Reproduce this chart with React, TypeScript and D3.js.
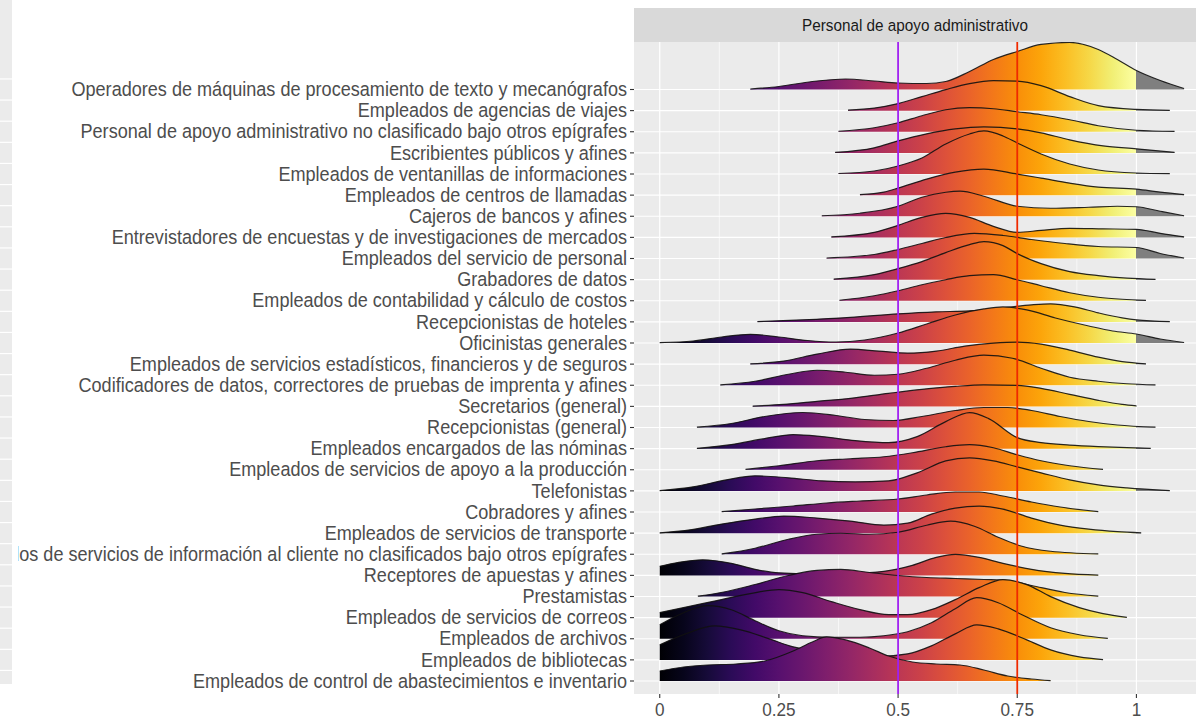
import React from 'react';
import * as d3 from 'd3';

const categories: string[] = [
  'Operadores de máquinas de procesamiento de texto y mecanógrafos',
  'Empleados de agencias de viajes',
  'Personal de apoyo administrativo no clasificado bajo otros epígrafes',
  'Escribientes públicos y afines',
  'Empleados de ventanillas de informaciones',
  'Empleados de centros de llamadas',
  'Cajeros de bancos y afines',
  'Entrevistadores de encuestas y de investigaciones de mercados',
  'Empleados del servicio de personal',
  'Grabadores de datos',
  'Empleados de contabilidad y cálculo de costos',
  'Recepcionistas de hoteles',
  'Oficinistas generales',
  'Empleados de servicios estadísticos, financieros y de seguros',
  'Codificadores de datos, correctores de pruebas de imprenta y afines',
  'Secretarios (general)',
  'Recepcionistas (general)',
  'Empleados encargados de las nóminas',
  'Empleados de servicios de apoyo a la producción',
  'Telefonistas',
  'Cobradores y afines',
  'Empleados de servicios de transporte',
  'Empleados de servicios de información al cliente no clasificados bajo otros epígrafes',
  'Receptores de apuestas y afines',
  'Prestamistas',
  'Empleados de servicios de correos',
  'Empleados de archivos',
  'Empleados de bibliotecas',
  'Empleados de control de abastecimientos e inventario',
];

const facetTitle = 'Personal de apoyo administrativo';
const xTicks = [0, 0.25, 0.5, 0.75, 1];
const xTickLabels = ['0', '0.25', '0.5', '0.75', '1'];
const xMinorTicks = [0.125, 0.375, 0.625, 0.875];
const refLines = [0.5, 0.75];

// ridge outlines: [x, density height] key points
const r00 = [[0.19,0.5],[0.25,3],[0.32,8],[0.39,10.5],[0.45,8.5],[0.5,6.5],[0.56,6],[0.6,8],[0.65,18],[0.7,30],[0.75,38],[0.8,45],[0.86,47],[0.92,40],[0.96,30],[1.0,19],[1.05,9],[1.1,1]];
const r01 = [[0.395,0.5],[0.45,2.5],[0.5,7],[0.55,14],[0.6,21],[0.65,27],[0.7,30],[0.75,29.5],[0.8,25],[0.86,14],[0.92,5],[1.0,1.2],[1.07,0.3]];
const r02 = [[0.375,0.5],[0.45,4],[0.5,9],[0.55,16],[0.6,22],[0.65,24],[0.7,23],[0.75,20],[0.8,17],[0.86,12],[0.92,6],[1.0,1.5],[1.08,0.3]];
const r03 = [[0.368,0.5],[0.45,5],[0.5,12],[0.56,19],[0.62,24],[0.68,26],[0.75,24],[0.8,20],[0.86,13],[0.93,7],[1.0,4],[1.08,0.5]];
const r04 = [[0.375,0.5],[0.45,3],[0.5,8],[0.55,16],[0.6,30],[0.65,40],[0.68,43],[0.72,38],[0.75,31],[0.8,20],[0.86,10],[0.92,4],[1.0,1],[1.07,0.3]];
const r05 = [[0.42,0.5],[0.47,3],[0.5,7],[0.56,16],[0.62,23],[0.68,26],[0.75,21],[0.8,17],[0.86,12],[0.92,8],[1.0,6],[1.05,3],[1.1,0.5]];
const r06 = [[0.34,0.5],[0.42,3],[0.5,10],[0.55,19],[0.6,24],[0.63,25],[0.68,20],[0.75,10],[0.82,8],[0.9,9],[0.96,10],[1.0,9.5],[1.05,5],[1.1,0.5]];
const r07 = [[0.36,0.5],[0.45,5],[0.5,12],[0.55,20],[0.6,24],[0.65,20],[0.7,11],[0.75,5],[0.8,7],[0.86,9],[0.93,8.5],[1.0,8],[1.05,4],[1.1,0.5]];
const r08 = [[0.35,0.5],[0.45,4],[0.5,9],[0.55,15],[0.6,21],[0.66,25],[0.72,23],[0.78,19],[0.85,15],[0.92,12],[1.0,11],[1.05,5],[1.1,0.5]];
const r09 = [[0.365,0.5],[0.45,5],[0.5,11],[0.55,18],[0.6,27],[0.65,35],[0.68,38],[0.72,34],[0.75,26],[0.8,16],[0.86,8],[0.92,4],[0.98,1.5],[1.04,0.3]];
const r10 = [[0.377,0.5],[0.45,5],[0.5,10],[0.55,16],[0.6,21],[0.65,25],[0.7,26],[0.75,21],[0.8,15],[0.86,8],[0.92,3.5],[0.97,1.5],[1.02,0.3]];
const r11 = [[0.205,0.3],[0.3,2],[0.4,4.5],[0.5,8],[0.58,10],[0.65,11],[0.72,14],[0.78,17],[0.82,18],[0.87,15],[0.92,9],[0.97,4],[1.0,2],[1.07,0.3]];
const r12 = [[0.0,0.3],[0.07,2],[0.13,6],[0.19,8.7],[0.25,6],[0.31,2.5],[0.37,1],[0.43,3],[0.5,10],[0.56,19],[0.62,28],[0.68,34],[0.72,36],[0.77,33],[0.83,25],[0.9,17],[0.95,12],[1.0,9],[1.05,4],[1.1,0.5]];
const r13 = [[0.19,0.3],[0.26,3],[0.33,10],[0.4,15],[0.46,13],[0.52,11],[0.58,13],[0.64,18],[0.7,21],[0.75,22],[0.8,20],[0.86,14],[0.92,7],[0.97,2.5],[1.02,0.3]];
const r14 = [[0.127,0.3],[0.2,4],[0.27,11],[0.33,15],[0.39,13],[0.45,10],[0.5,11],[0.56,17],[0.62,25],[0.68,30],[0.74,27],[0.8,17],[0.86,8],[0.92,4],[0.98,1.5],[1.04,0.3]];
const r15 = [[0.195,0.3],[0.26,2],[0.33,5],[0.4,8],[0.48,13],[0.55,17],[0.62,20],[0.68,21.5],[0.75,21],[0.8,18],[0.86,12],[0.92,6],[0.97,2],[1.0,0.5]];
const r16 = [[0.078,0.3],[0.15,4],[0.22,11],[0.3,15],[0.37,12],[0.43,8],[0.49,7],[0.55,11],[0.62,17],[0.68,20],[0.73,20],[0.78,17],[0.84,11],[0.9,6],[0.96,2.5],[1.04,0.3]];
const r17 = [[0.078,0.3],[0.15,4],[0.22,10],[0.28,14],[0.34,12],[0.41,8],[0.48,6],[0.54,12],[0.6,27],[0.65,36],[0.69,30],[0.75,11],[0.8,6],[0.86,3.5],[0.92,2],[0.98,1],[1.03,0.3]];
const r18 = [[0.18,0.3],[0.25,4],[0.33,9],[0.4,11],[0.47,13],[0.53,17],[0.6,23],[0.65,25],[0.7,22],[0.75,15],[0.8,9],[0.86,4],[0.93,0.3]];
const r19 = [[0.0,0.3],[0.07,4],[0.14,11],[0.2,15],[0.27,13],[0.34,10],[0.41,9],[0.48,10],[0.54,18],[0.6,30],[0.65,33],[0.7,30],[0.75,24],[0.8,18],[0.86,11],[0.92,6],[0.98,3],[1.07,0.3]];
const r20 = [[0.13,0.3],[0.2,3],[0.28,6],[0.35,9],[0.42,11],[0.5,13],[0.56,17],[0.62,20],[0.67,20],[0.72,16],[0.78,10],[0.84,5],[0.92,0.3]];
const r21 = [[0.0,0.3],[0.06,3],[0.13,9],[0.2,14],[0.26,17],[0.33,15],[0.4,12],[0.47,8],[0.52,10],[0.57,19],[0.62,25],[0.67,27],[0.72,24],[0.78,15],[0.84,8],[0.9,4],[0.96,1.5],[1.01,0.3]];
const r22 = [[0.13,0.3],[0.2,6],[0.27,15],[0.33,20],[0.38,21],[0.44,20],[0.5,22],[0.56,29],[0.61,33],[0.66,28],[0.71,17],[0.76,8],[0.82,3],[0.92,0.3]];
const r23 = [[0.0,9],[0.04,13],[0.09,15.5],[0.15,12],[0.2,6],[0.25,2.5],[0.32,1.5],[0.4,2],[0.47,4],[0.53,10],[0.58,18],[0.62,21],[0.67,18],[0.72,12],[0.78,6],[0.85,2],[0.92,0.3]];
const r24 = [[0.08,0.3],[0.14,5],[0.2,12],[0.27,21],[0.33,26],[0.38,27],[0.44,24],[0.5,21],[0.56,19],[0.62,18],[0.68,17],[0.73,16],[0.78,11],[0.85,4],[0.92,0.3]];
const r25 = [[0.0,5],[0.06,11],[0.12,17],[0.19,24],[0.25,28],[0.3,25],[0.36,16],[0.42,8],[0.48,3],[0.52,3],[0.57,8],[0.62,18],[0.67,30],[0.72,38],[0.77,33],[0.82,21],[0.88,10],[0.93,4],[0.98,0.3]];
const r26 = [[0.0,14],[0.05,26],[0.1,33],[0.15,29],[0.2,18],[0.25,8],[0.3,3],[0.36,1.5],[0.42,1.5],[0.47,3],[0.52,7],[0.57,16],[0.62,30],[0.665,41],[0.71,36],[0.76,24],[0.82,11],[0.88,4],[0.94,0.3]];
const r27 = [[0.0,15],[0.06,27],[0.115,34],[0.17,30],[0.23,21],[0.28,13],[0.34,8],[0.4,5],[0.46,3.5],[0.52,6],[0.57,14],[0.62,26],[0.665,35],[0.71,31],[0.77,20],[0.82,10],[0.88,3],[0.93,0.3]];
const r28 = [[0.0,10],[0.05,14],[0.1,16],[0.16,17],[0.22,20],[0.28,30],[0.32,39],[0.35,44],[0.39,41],[0.44,33],[0.48,25],[0.53,19],[0.58,17],[0.63,16],[0.68,11],[0.73,5],[0.78,2],[0.82,0.3]];

const ridgeData: number[][][] = [r00,r01,r02,r03,r04,r05,r06,r07,r08,r09,r10,r11,r12,r13,r14,r15,r16,r17,r18,r19,r20,r21,r22,r23,r24,r25,r26,r27,r28];

const W = 1196;
const H = 720;
const FONT = "'Liberation Sans', Arial, Helvetica, sans-serif";

export default function App() {
  const panelLeft = 634;
  const panelRight = 1196;
  const panelTop = 42;
  const panelBottom = 694;
  const x = d3.scaleLinear().domain([-0.054, 1.125]).range([panelLeft, panelRight]);
  const y = d3.scalePoint<string>().domain(categories).range([89.5, 681]);
  const step = y.step();
  const hs = d3.scaleLinear().domain([0, 10]).range([0, (10 * step) / 21.1]);

  const gx1 = x(0);
  const gx2 = x(1.125);
  const off = (v: number) => (x(v) - gx1) / (gx2 - gx1);
  const stopVals = d3.range(21).map((i) => i / 20);
  const narrow = 0.927;

  return (
    <svg width={W} height={H} style={{ position: 'absolute', left: 0, top: 0, background: '#fff' }} fontFamily={FONT}>
      <defs>
        <linearGradient id="ridgeFill" gradientUnits="userSpaceOnUse" x1={gx1} x2={gx2} y1={0} y2={0}>
          {stopVals.map((v) => (
            <stop key={v} offset={off(v)} stopColor={d3.interpolateInferno(v)} />
          ))}
          <stop offset={off(1)} stopColor="#7f7f7f" />
          <stop offset={1} stopColor="#7f7f7f" />
        </linearGradient>
        <clipPath id="panelClip">
          <rect x={panelLeft} y={panelTop} width={panelRight - panelLeft} height={panelBottom - panelTop} />
        </clipPath>
      </defs>

      {/* strip */}
      <rect x={panelLeft} y={8} width={panelRight - panelLeft} height={panelTop - 8} fill="#d9d9d9" />
      <text transform={`translate(${(panelLeft + panelRight) / 2},25) scale(${narrow},1)`} textAnchor="middle" dominantBaseline="central" fontSize={16.5} fill="#1a1a1a">
        {facetTitle}
      </text>

      {/* panel */}
      <rect x={panelLeft} y={panelTop} width={panelRight - panelLeft} height={panelBottom - panelTop} fill="#ebebeb" />
      {xMinorTicks.map((t) => (
        <line key={'mn' + t} x1={x(t)} x2={x(t)} y1={panelTop} y2={panelBottom} stroke="#fff" strokeWidth={0.6} />
      ))}
      {xTicks.map((t) => (
        <line key={'mj' + t} x1={x(t)} x2={x(t)} y1={panelTop} y2={panelBottom} stroke="#fff" strokeWidth={1.2} />
      ))}
      {categories.map((c) => (
        <line key={'hg' + c} x1={panelLeft} x2={panelRight} y1={y(c)} y2={y(c)} stroke="#fff" strokeWidth={1.2} />
      ))}

      <g clipPath="url(#panelClip)">
        {ridgeData.map((pts, i) => {
          const base = y(categories[i]) as number;
          const area = d3
            .area<number[]>()
            .x((d) => x(d[0]))
            .y0(base)
            .y1((d) => base - hs(d[1]))
            .curve(d3.curveMonotoneX);
          const line = d3
            .line<number[]>()
            .x((d) => x(d[0]))
            .y((d) => base - hs(d[1]))
            .curve(d3.curveMonotoneX);
          return (
            <g key={'r' + i}>
              <path d={area(pts) || ''} fill="url(#ridgeFill)" />
              <path d={line(pts) || ''} fill="none" stroke="#111" strokeOpacity={0.9} strokeWidth={1.2} />
            </g>
          );
        })}
        <line x1={x(refLines[0])} x2={x(refLines[0])} y1={panelTop} y2={panelBottom} stroke="#a020f0" strokeWidth={1.8} />
        <line x1={x(refLines[1])} x2={x(refLines[1])} y1={panelTop} y2={panelBottom} stroke="#ee2a00" strokeWidth={1.8} />
      </g>

      {/* y axis */}
      {categories.map((c) => (
        <g key={'yl' + c}>
          <line x1={panelLeft - 4} x2={panelLeft} y1={y(c)} y2={y(c)} stroke="#333" strokeWidth={1.1} />
          <text transform={`translate(${panelLeft - 7},${y(c)}) scale(${narrow},1)`} textAnchor="end" dominantBaseline="central" fontSize={19.5} fill="#4d4d4d">
            {c}
          </text>
        </g>
      ))}

      {/* left remnant of neighbouring panel */}
      <rect x={0} y={0} width={18} height={H} fill="#fff" />
      <rect x={0} y={0} width={12} height={684} fill="#ebebeb" />
      {categories.map((c) => (
        <line key={'lg' + c} x1={0} x2={12} y1={(y(c) as number) - step / 2} y2={(y(c) as number) - step / 2} stroke="#fff" strokeWidth={1.2} />
      ))}

      {/* x axis */}
      {xTicks.map((t, i) => (
        <g key={'xl' + t}>
          <line x1={x(t)} x2={x(t)} y1={panelBottom} y2={panelBottom + 4} stroke="#333" strokeWidth={1.1} />
          <text transform={`translate(${x(t)},716) scale(${narrow},1)`} textAnchor="middle" fontSize={18.5} fill="#4d4d4d">
            {xTickLabels[i]}
          </text>
        </g>
      ))}
    </svg>
  );
}
